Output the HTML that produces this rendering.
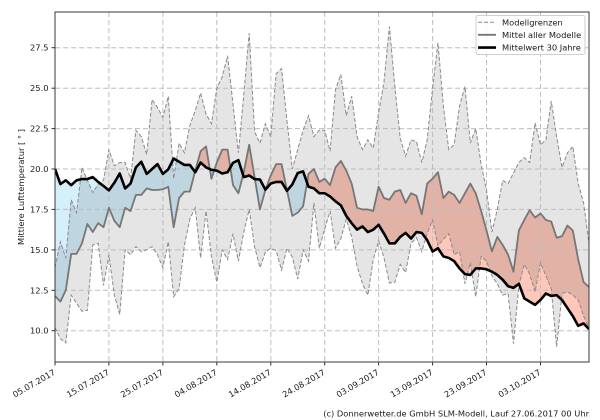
<!DOCTYPE html>
<html><head><meta charset="utf-8"><style>
html,body{margin:0;padding:0;background:#fff;width:600px;height:420px;overflow:hidden;}
svg{display:block;}
text{font-family:"DejaVu Sans","Liberation Sans",sans-serif;font-size:8.3px;fill:#1a1a1a;}
</style></head><body>
<svg width="600" height="420" viewBox="0 0 600 420" xmlns="http://www.w3.org/2000/svg">
<defs>
<clipPath id="plot"><rect x="55" y="12" width="534" height="350"/></clipPath>
<clipPath id="aboveLower" clipPathUnits="userSpaceOnUse"><polygon points="0,10.2 1,9.5 2,9.25 3,12.2 4,11.7 5,11.2 6,11.25 7,15.3 8,15.4 9,12.8 10,14.7 11,12.2 12,11 13,15 14,14.7 15,15.2 16,14.9 17,15 18,15.2 19,14.7 20,13.9 21,15.5 22,12.1 23,12.6 24,15.3 25,16.9 26,17.6 27,14.5 28,17.4 29,14.6 30,13 31,15 32,14.4 33,16 34,14.3 35,16.1 36,17.5 37,15.2 38,13.9 39,14.85 40,15.1 41,14.95 42,13.75 43,15.1 44,14.55 45,13.2 46,15 47,14.3 48,17.9 49,15.1 50,16.3 51,17.4 52,15.1 53,15.7 54,16.9 55,15.8 56,14 57,12.9 58,12.2 59,14.4 60,15.55 61,14.5 62,12.95 63,13 64,14.1 65,13.6 66,15.4 67,15.75 68,14.9 69,16 70,16.85 71,15.25 72,15.65 73,16 74,14.7 75,14.9 76,12.9 77,14.2 78,12.1 79,14.6 80,14.3 81,13.4 82,12.9 83,12.2 84,12.3 85,9.2 86,12.8 87,14.1 88,13.5 89,12.4 90,14.2 91,13.4 92,12.6 93,9 94,12.3 95,12.4 96,12.2 97,11.9 98,10.9 99,10.2 99,29.8 0,29.8"/></clipPath>
<clipPath id="aboveMean" clipPathUnits="userSpaceOnUse"><polygon points="0,12.15 1,11.8 2,12.5 3,14.75 4,14.75 5,15.4 6,16.6 7,16.1 8,16.65 9,16.4 10,17.6 11,16.8 12,16.4 13,17.6 14,17.4 15,18.4 16,18.4 17,18.8 18,18.7 19,18.7 20,18.75 21,18.9 22,16.4 23,18.2 24,18.6 25,18.6 26,19.9 27,21.1 28,21.4 29,19.4 30,20.4 31,21.2 32,21.2 33,19 34,18.5 35,19.8 36,21.5 37,19.5 38,17.5 39,18.7 40,19.6 41,20.3 42,20.3 43,18.7 44,17.1 45,17.3 46,17.7 47,19.7 48,20 49,19.2 50,19.4 51,19 52,20.1 53,20.5 54,19.9 55,19.1 56,17.6 57,17.5 58,17.5 59,17.4 60,18.9 61,18.2 62,18.1 63,18.6 64,18.7 65,17.9 66,18.5 67,18.35 68,17.2 69,19.1 70,19.4 71,19.8 72,18.2 73,18.6 74,18.4 75,17.9 76,18.5 77,19.1 78,18.5 79,17.4 80,16.2 81,14.9 82,15.8 83,15.3 84,14.7 85,13.65 86,16.2 87,16.85 88,17.45 89,17 90,17.25 91,16.85 92,16.75 93,15.75 94,15.85 95,16.5 96,16.2 97,14.4 98,13 99,12.7 99,29.8 0,29.8"/></clipPath>
<clipPath id="aboveClim" clipPathUnits="userSpaceOnUse"><polygon points="0,20 1,19.07 2,19.3 3,19 4,19.3 5,19.38 6,19.38 7,19.5 8,19.2 9,18.95 10,18.68 11,19.15 12,19.72 13,18.8 14,19.1 15,20.1 16,20.45 17,19.7 18,20 19,20.3 20,19.7 21,19.98 22,20.65 23,20.45 24,20.25 25,20.25 26,19.8 27,20.4 28,20.1 29,19.95 30,19.9 31,19.72 32,19.8 33,20.38 34,20.55 35,19.5 36,19.6 37,19.38 38,19.35 39,18.72 40,19.1 41,19.2 42,19.2 43,18.65 44,19.05 45,19.75 46,19.85 47,18.9 48,18.8 49,18.5 50,18.5 51,18.3 52,18 53,17.75 54,17.1 55,16.65 56,16.25 57,16.45 58,16.1 59,16.25 60,16.55 61,16 62,15.4 63,15.4 64,15.8 65,16.05 66,15.7 67,16.1 68,16.05 69,15.6 70,14.9 71,15.1 72,14.6 73,14.5 74,14.3 75,13.85 76,13.5 77,13.45 78,13.85 79,13.85 80,13.8 81,13.65 82,13.45 83,13.15 84,12.75 85,12.65 86,12.9 87,12 88,11.8 89,11.6 90,11.9 91,12.3 92,12.15 93,12.2 94,11.9 95,11.4 96,10.9 97,10.3 98,10.45 99,10.1 99,29.8 0,29.8"/></clipPath>
</defs>
<rect x="0" y="0" width="600" height="420" fill="#fff"/>

<g clip-path="url(#plot)">
<g transform="matrix(5.393939,0,0,-16.17,55,492.4)">
<polygon fill="#d5effb" clip-path="url(#aboveMean)" points="0,20 1,19.07 2,19.3 3,19 4,19.3 5,19.38 6,19.38 7,19.5 8,19.2 9,18.95 10,18.68 11,19.15 12,19.72 13,18.8 14,19.1 15,20.1 16,20.45 17,19.7 18,20 19,20.3 20,19.7 21,19.98 22,20.65 23,20.45 24,20.25 25,20.25 26,19.8 27,20.4 28,20.1 29,19.95 30,19.9 31,19.72 32,19.8 33,20.38 34,20.55 35,19.5 36,19.6 37,19.38 38,19.35 39,18.72 40,19.1 41,19.2 42,19.2 43,18.65 44,19.05 45,19.75 46,19.85 47,18.9 48,18.8 49,18.5 50,18.5 51,18.3 52,18 53,17.75 54,17.1 55,16.65 56,16.25 57,16.45 58,16.1 59,16.25 60,16.55 61,16 62,15.4 63,15.4 64,15.8 65,16.05 66,15.7 67,16.1 68,16.05 69,15.6 70,14.9 71,15.1 72,14.6 73,14.5 74,14.3 75,13.85 76,13.5 77,13.45 78,13.85 79,13.85 80,13.8 81,13.65 82,13.45 83,13.15 84,12.75 85,12.65 86,12.9 87,12 88,11.8 89,11.6 90,11.9 91,12.3 92,12.15 93,12.2 94,11.9 95,11.4 96,10.9 97,10.3 98,10.45 99,10.1 99,8 0,8"/>
<polygon fill="#fdc7ba" clip-path="url(#aboveClim)" points="0,12.15 1,11.8 2,12.5 3,14.75 4,14.75 5,15.4 6,16.6 7,16.1 8,16.65 9,16.4 10,17.6 11,16.8 12,16.4 13,17.6 14,17.4 15,18.4 16,18.4 17,18.8 18,18.7 19,18.7 20,18.75 21,18.9 22,16.4 23,18.2 24,18.6 25,18.6 26,19.9 27,21.1 28,21.4 29,19.4 30,20.4 31,21.2 32,21.2 33,19 34,18.5 35,19.8 36,21.5 37,19.5 38,17.5 39,18.7 40,19.6 41,20.3 42,20.3 43,18.7 44,17.1 45,17.3 46,17.7 47,19.7 48,20 49,19.2 50,19.4 51,19 52,20.1 53,20.5 54,19.9 55,19.1 56,17.6 57,17.5 58,17.5 59,17.4 60,18.9 61,18.2 62,18.1 63,18.6 64,18.7 65,17.9 66,18.5 67,18.35 68,17.2 69,19.1 70,19.4 71,19.8 72,18.2 73,18.6 74,18.4 75,17.9 76,18.5 77,19.1 78,18.5 79,17.4 80,16.2 81,14.9 82,15.8 83,15.3 84,14.7 85,13.65 86,16.2 87,16.85 88,17.45 89,17 90,17.25 91,16.85 92,16.75 93,15.75 94,15.85 95,16.5 96,16.2 97,14.4 98,13 99,12.7 99,8 0,8"/>
<polygon fill="#000" fill-opacity="0.1" clip-path="url(#aboveLower)" points="0,13.9 1,15.5 2,14.5 3,18.1 4,17.3 5,20.1 6,19.3 7,18.55 8,19.05 9,19.3 10,21.2 11,20.2 12,20.4 13,20.4 14,19.4 15,22.4 16,22 17,20.9 18,24.3 19,23.8 20,23.2 21,24.5 22,19.4 23,21.6 24,21 25,22.7 26,23.6 27,24.7 28,23.4 29,22.8 30,25 31,25.7 32,27 33,24 34,21 35,24.6 36,28.4 37,22.3 38,21.6 39,22.8 40,22 41,25.9 42,26.2 43,23 44,20 45,21.2 46,22.4 47,23.3 48,22 49,22.4 50,22.4 51,21.1 52,24.9 53,25.85 54,23.3 55,24.5 56,22 57,21.2 58,21.8 59,21.3 60,23.5 61,25.4 62,28.8 63,25.1 64,21.9 65,20.8 66,21.8 67,21.7 68,20.4 69,21.8 70,25 71,27.8 72,23.9 73,21.2 74,21.5 75,23.9 76,25.1 77,21.6 78,22.5 79,20.3 80,18.7 81,16.1 82,17.5 83,19.3 84,19.1 85,19.75 86,20.4 87,20.7 88,20.4 89,22.85 90,21.5 91,21.8 92,24.2 93,22 94,20.1 95,21 96,21.4 97,19.1 98,17.9 99,15.4 99,8 0,8"/>
</g>

<g stroke="#bdbdbd" stroke-width="1" stroke-dasharray="5,3" fill="none">
<line x1="55" y1="330.7" x2="589" y2="330.7"/>
<line x1="55" y1="290.3" x2="589" y2="290.3"/>
<line x1="55" y1="249.9" x2="589" y2="249.9"/>
<line x1="55" y1="209.4" x2="589" y2="209.4"/>
<line x1="55" y1="169" x2="589" y2="169"/>
<line x1="55" y1="128.6" x2="589" y2="128.6"/>
<line x1="55" y1="88.2" x2="589" y2="88.2"/>
<line x1="55" y1="47.7" x2="589" y2="47.7"/>
<line x1="108.9" y1="12" x2="108.9" y2="362"/>
<line x1="162.9" y1="12" x2="162.9" y2="362"/>
<line x1="216.8" y1="12" x2="216.8" y2="362"/>
<line x1="270.8" y1="12" x2="270.8" y2="362"/>
<line x1="324.7" y1="12" x2="324.7" y2="362"/>
<line x1="378.6" y1="12" x2="378.6" y2="362"/>
<line x1="432.6" y1="12" x2="432.6" y2="362"/>
<line x1="486.5" y1="12" x2="486.5" y2="362"/>
<line x1="540.5" y1="12" x2="540.5" y2="362"/>
</g>

<g transform="matrix(5.393939,0,0,-16.17,55,492.4)" fill="none">
<polyline vector-effect="non-scaling-stroke" stroke="#8a8a8a" stroke-width="1" stroke-dasharray="4,2" points="0,13.9 1,15.5 2,14.5 3,18.1 4,17.3 5,20.1 6,19.3 7,18.55 8,19.05 9,19.3 10,21.2 11,20.2 12,20.4 13,20.4 14,19.4 15,22.4 16,22 17,20.9 18,24.3 19,23.8 20,23.2 21,24.5 22,19.4 23,21.6 24,21 25,22.7 26,23.6 27,24.7 28,23.4 29,22.8 30,25 31,25.7 32,27 33,24 34,21 35,24.6 36,28.4 37,22.3 38,21.6 39,22.8 40,22 41,25.9 42,26.2 43,23 44,20 45,21.2 46,22.4 47,23.3 48,22 49,22.4 50,22.4 51,21.1 52,24.9 53,25.85 54,23.3 55,24.5 56,22 57,21.2 58,21.8 59,21.3 60,23.5 61,25.4 62,28.8 63,25.1 64,21.9 65,20.8 66,21.8 67,21.7 68,20.4 69,21.8 70,25 71,27.8 72,23.9 73,21.2 74,21.5 75,23.9 76,25.1 77,21.6 78,22.5 79,20.3 80,18.7 81,16.1 82,17.5 83,19.3 84,19.1 85,19.75 86,20.4 87,20.7 88,20.4 89,22.85 90,21.5 91,21.8 92,24.2 93,22 94,20.1 95,21 96,21.4 97,19.1 98,17.9 99,15.4"/>
<polyline vector-effect="non-scaling-stroke" stroke="#8a8a8a" stroke-width="1" stroke-dasharray="4,2" points="0,10.2 1,9.5 2,9.25 3,12.2 4,11.7 5,11.2 6,11.25 7,15.3 8,15.4 9,12.8 10,14.7 11,12.2 12,11 13,15 14,14.7 15,15.2 16,14.9 17,15 18,15.2 19,14.7 20,13.9 21,15.5 22,12.1 23,12.6 24,15.3 25,16.9 26,17.6 27,14.5 28,17.4 29,14.6 30,13 31,15 32,14.4 33,16 34,14.3 35,16.1 36,17.5 37,15.2 38,13.9 39,14.85 40,15.1 41,14.95 42,13.75 43,15.1 44,14.55 45,13.2 46,15 47,14.3 48,17.9 49,15.1 50,16.3 51,17.4 52,15.1 53,15.7 54,16.9 55,15.8 56,14 57,12.9 58,12.2 59,14.4 60,15.55 61,14.5 62,12.95 63,13 64,14.1 65,13.6 66,15.4 67,15.75 68,14.9 69,16 70,16.85 71,15.25 72,15.65 73,16 74,14.7 75,14.9 76,12.9 77,14.2 78,12.1 79,14.6 80,14.3 81,13.4 82,12.9 83,12.2 84,12.3 85,9.2 86,12.8 87,14.1 88,13.5 89,12.4 90,14.2 91,13.4 92,12.6 93,9 94,12.3 95,12.4 96,12.2 97,11.9 98,10.9 99,10.2"/>
<polyline vector-effect="non-scaling-stroke" stroke="#767676" stroke-width="1.8" stroke-linejoin="round" points="0,12.15 1,11.8 2,12.5 3,14.75 4,14.75 5,15.4 6,16.6 7,16.1 8,16.65 9,16.4 10,17.6 11,16.8 12,16.4 13,17.6 14,17.4 15,18.4 16,18.4 17,18.8 18,18.7 19,18.7 20,18.75 21,18.9 22,16.4 23,18.2 24,18.6 25,18.6 26,19.9 27,21.1 28,21.4 29,19.4 30,20.4 31,21.2 32,21.2 33,19 34,18.5 35,19.8 36,21.5 37,19.5 38,17.5 39,18.7 40,19.6 41,20.3 42,20.3 43,18.7 44,17.1 45,17.3 46,17.7 47,19.7 48,20 49,19.2 50,19.4 51,19 52,20.1 53,20.5 54,19.9 55,19.1 56,17.6 57,17.5 58,17.5 59,17.4 60,18.9 61,18.2 62,18.1 63,18.6 64,18.7 65,17.9 66,18.5 67,18.35 68,17.2 69,19.1 70,19.4 71,19.8 72,18.2 73,18.6 74,18.4 75,17.9 76,18.5 77,19.1 78,18.5 79,17.4 80,16.2 81,14.9 82,15.8 83,15.3 84,14.7 85,13.65 86,16.2 87,16.85 88,17.45 89,17 90,17.25 91,16.85 92,16.75 93,15.75 94,15.85 95,16.5 96,16.2 97,14.4 98,13 99,12.7"/>
<polyline vector-effect="non-scaling-stroke" stroke="#000" stroke-width="2.6" stroke-linejoin="round" points="0,20 1,19.07 2,19.3 3,19 4,19.3 5,19.38 6,19.38 7,19.5 8,19.2 9,18.95 10,18.68 11,19.15 12,19.72 13,18.8 14,19.1 15,20.1 16,20.45 17,19.7 18,20 19,20.3 20,19.7 21,19.98 22,20.65 23,20.45 24,20.25 25,20.25 26,19.8 27,20.4 28,20.1 29,19.95 30,19.9 31,19.72 32,19.8 33,20.38 34,20.55 35,19.5 36,19.6 37,19.38 38,19.35 39,18.72 40,19.1 41,19.2 42,19.2 43,18.65 44,19.05 45,19.75 46,19.85 47,18.9 48,18.8 49,18.5 50,18.5 51,18.3 52,18 53,17.75 54,17.1 55,16.65 56,16.25 57,16.45 58,16.1 59,16.25 60,16.55 61,16 62,15.4 63,15.4 64,15.8 65,16.05 66,15.7 67,16.1 68,16.05 69,15.6 70,14.9 71,15.1 72,14.6 73,14.5 74,14.3 75,13.85 76,13.5 77,13.45 78,13.85 79,13.85 80,13.8 81,13.65 82,13.45 83,13.15 84,12.75 85,12.65 86,12.9 87,12 88,11.8 89,11.6 90,11.9 91,12.3 92,12.15 93,12.2 94,11.9 95,11.4 96,10.9 97,10.3 98,10.45 99,10.1"/>
</g>
</g>

<rect x="55" y="12" width="534" height="350" fill="none" stroke="#3a3a3a" stroke-width="1"/>

<g stroke="#333" stroke-width="1">
<line x1="51.5" y1="330.7" x2="55" y2="330.7"/>
<line x1="51.5" y1="290.3" x2="55" y2="290.3"/>
<line x1="51.5" y1="249.9" x2="55" y2="249.9"/>
<line x1="51.5" y1="209.4" x2="55" y2="209.4"/>
<line x1="51.5" y1="169" x2="55" y2="169"/>
<line x1="51.5" y1="128.6" x2="55" y2="128.6"/>
<line x1="51.5" y1="88.2" x2="55" y2="88.2"/>
<line x1="51.5" y1="47.7" x2="55" y2="47.7"/>
<line x1="55" y1="362" x2="55" y2="365.5"/>
<line x1="108.9" y1="362" x2="108.9" y2="365.5"/>
<line x1="162.9" y1="362" x2="162.9" y2="365.5"/>
<line x1="216.8" y1="362" x2="216.8" y2="365.5"/>
<line x1="270.8" y1="362" x2="270.8" y2="365.5"/>
<line x1="324.7" y1="362" x2="324.7" y2="365.5"/>
<line x1="378.6" y1="362" x2="378.6" y2="365.5"/>
<line x1="432.6" y1="362" x2="432.6" y2="365.5"/>
<line x1="486.5" y1="362" x2="486.5" y2="365.5"/>
<line x1="540.5" y1="362" x2="540.5" y2="365.5"/>
</g>

<g text-anchor="end">
<text x="48.5" y="333.7">10.0</text>
<text x="48.5" y="293.3">12.5</text>
<text x="48.5" y="252.9">15.0</text>
<text x="48.5" y="212.4">17.5</text>
<text x="48.5" y="172">20.0</text>
<text x="48.5" y="131.6">22.5</text>
<text x="48.5" y="91.2">25.0</text>
<text x="48.5" y="50.7">27.5</text>
</g>

<g text-anchor="end">
<text transform="translate(56,374) rotate(-30)">05.07.2017</text>
<text transform="translate(109.9,374) rotate(-30)">15.07.2017</text>
<text transform="translate(163.9,374) rotate(-30)">25.07.2017</text>
<text transform="translate(217.8,374) rotate(-30)">04.08.2017</text>
<text transform="translate(271.8,374) rotate(-30)">14.08.2017</text>
<text transform="translate(325.7,374) rotate(-30)">24.08.2017</text>
<text transform="translate(379.6,374) rotate(-30)">03.09.2017</text>
<text transform="translate(433.6,374) rotate(-30)">13.09.2017</text>
<text transform="translate(487.5,374) rotate(-30)">23.09.2017</text>
<text transform="translate(541.5,374) rotate(-30)">03.10.2017</text>
</g>

<text transform="translate(24,187) rotate(-90)" text-anchor="middle">Mittlere Lufttemperatur [ ° ]</text>

<rect x="476" y="15.5" width="109" height="39" rx="2" ry="2" fill="#fff" fill-opacity="0.85" stroke="#cfcfcf" stroke-width="1"/>
<line x1="478" y1="22.3" x2="496" y2="22.3" stroke="#8a8a8a" stroke-width="1" stroke-dasharray="4,2"/>
<line x1="478" y1="34.8" x2="496" y2="34.8" stroke="#767676" stroke-width="1.8"/>
<line x1="478" y1="47.6" x2="496" y2="47.6" stroke="#000" stroke-width="2.6"/>
<text x="502" y="25.3">Modellgrenzen</text>
<text x="502" y="37.8">Mittel aller Modelle</text>
<text x="502" y="50.6">Mittelwert 30 Jahre</text>

<text x="589" y="416.5" text-anchor="end">(c) Donnerwetter.de GmbH SLM-Modell, Lauf 27.06.2017 00 Uhr</text>
</svg>
</body></html>
